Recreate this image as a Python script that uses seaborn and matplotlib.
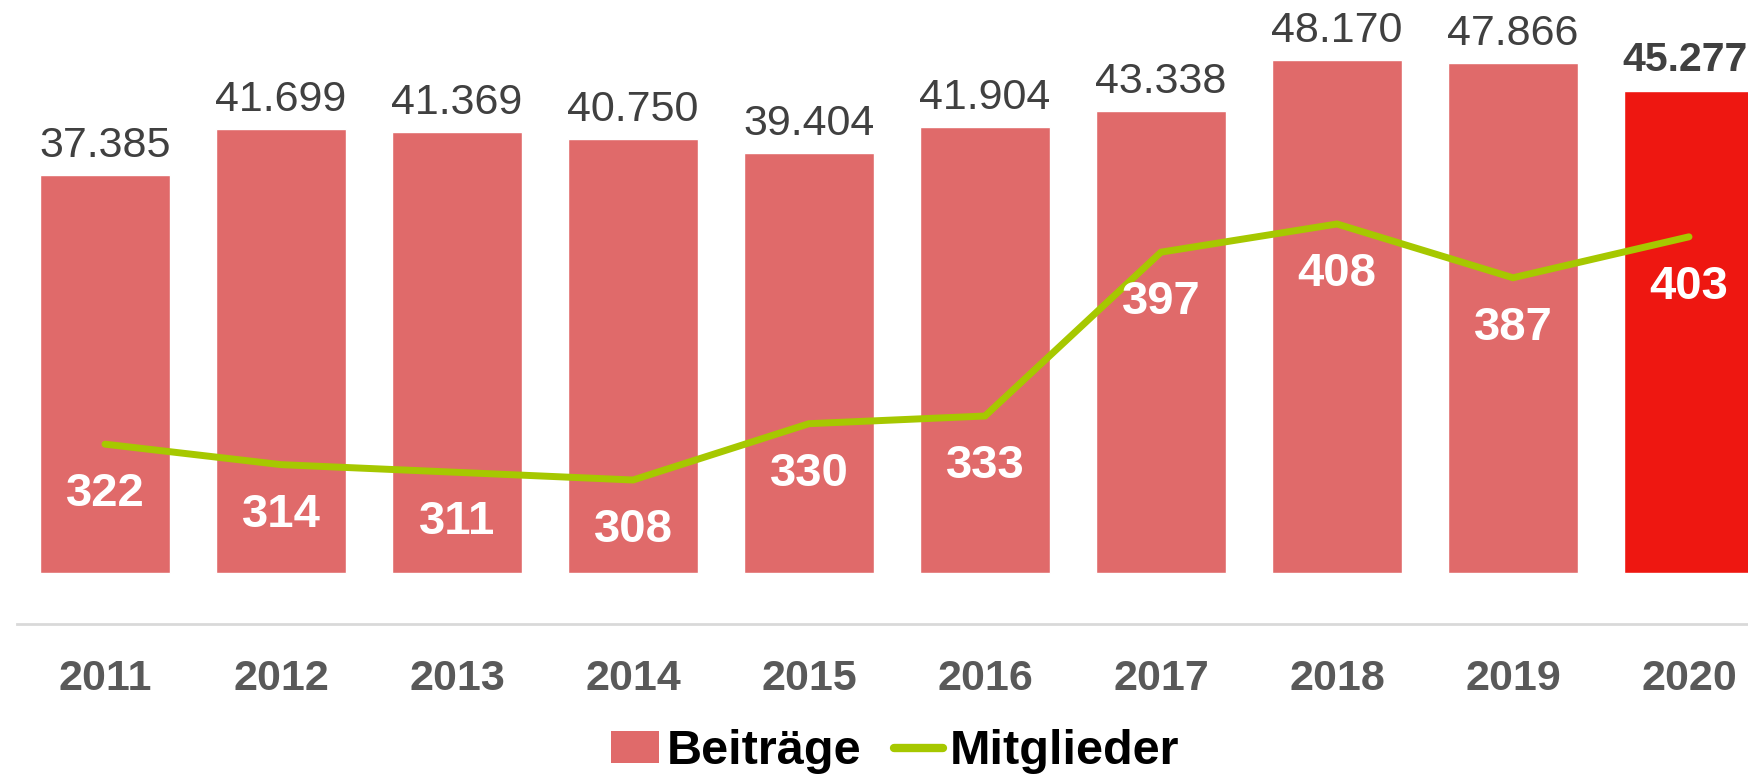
import numpy as np
import pandas as pd
import matplotlib
matplotlib.use("Agg")
import matplotlib.pyplot as plt
import seaborn as sns
from matplotlib.patches import Patch
from matplotlib.lines import Line2D

jahre = ["2011", "2012", "2013", "2014", "2015", "2016", "2017", "2018", "2019", "2020"]
beitraege = [37385, 41699, 41369, 40750, 39404, 41904, 43338, 48170, 47866, 45277]
mitglieder = [322, 314, 311, 308, 330, 333, 397, 408, 387, 403]
beitraege_text = ["37.385", "41.699", "41.369", "40.750", "39.404", "41.904", "43.338", "48.170", "47.866", "45.277"]

bar_farbe = "#E06A6A"
bar_farbe_2020 = "#EE1711"
linie_farbe = "#A6C800"

sns.set_theme(style="white")
plt.rcParams["font.family"] = ["Liberation Sans", "DejaVu Sans"]

W, H = 1749, 776
fig = plt.figure(figsize=(W / 100, H / 100), dpi=100)
# axes: x from -0.5 at px 17 to 9.5 at px 1777, bottom at px 624, top at px 0
ax = fig.add_axes([17 / W, (H - 624) / H, 1760 / W, 624 / H])

df = pd.DataFrame({"Jahr": jahre, "Beiträge": beitraege})
farben = [bar_farbe] * 9 + [bar_farbe_2020]
sns.barplot(data=df, x="Jahr", y="Beiträge", hue="Jahr", palette=farben,
            width=0.739, legend=False, ax=ax, saturation=1)
ax.set_ylim(-4789, 53803)
ax.set_xlim(-0.5, 9.5)
ax.set_xlabel("")
ax.set_ylabel("")
ax.set_yticks([])

for i, (v, t) in enumerate(zip(beitraege, beitraege_text)):
    if i == 9:
        # letzter Wert fett, etwas kleiner, damit er nicht am Rand abgeschnitten wird
        ax.annotate(t, (i, v), xytext=(-3, 14), textcoords="offset points",
                    ha="center", va="baseline", fontsize=29.5, color="#404040",
                    fontweight="bold")
    else:
        ax.annotate(t, (i, v), xytext=(0, 13), textcoords="offset points",
                    ha="center", va="baseline", fontsize=31, color="#404040")

ax.tick_params(axis="x", length=0, pad=25)
for lab in ax.get_xticklabels():
    lab.set_fontsize(31)
    lab.set_fontweight("bold")
    lab.set_color("#595959")

for s in ["top", "right", "left"]:
    ax.spines[s].set_visible(False)
ax.spines["bottom"].set_color("#D9D9D9")
ax.spines["bottom"].set_linewidth(2)

ax2 = ax.twinx()
sns.lineplot(x=np.arange(len(jahre)), y=mitglieder, ax=ax2, color=linie_farbe,
             linewidth=5, solid_capstyle="round", solid_joinstyle="miter")
ax2.set_ylim(251.75, 495.5)
ax2.set_yticks([])
for s in ["top", "right", "left", "bottom"]:
    ax2.spines[s].set_visible(False)

for i, m in enumerate(mitglieder):
    ax2.annotate(str(m), (i, m), xytext=(0, -36), textcoords="offset points",
                 ha="center", va="center", fontsize=34, fontweight="bold",
                 color="white")

handles = [Patch(facecolor=bar_farbe, edgecolor="none"),
           Line2D([0], [0], color=linie_farbe, linewidth=6, solid_capstyle="round")]
leg = fig.legend(handles, ["Beiträge", "Mitglieder"], loc="center",
                 bbox_to_anchor=(895 / W, 1 - 752 / H), ncol=2, frameon=False,
                 prop={"weight": "bold", "size": 35},
                 handlelength=1.0, handleheight=0.64, handletextpad=0.15,
                 columnspacing=0.68, borderpad=0)
for t in leg.get_texts():
    t.set_color("black")

fig.savefig("out.png", dpi=100)
